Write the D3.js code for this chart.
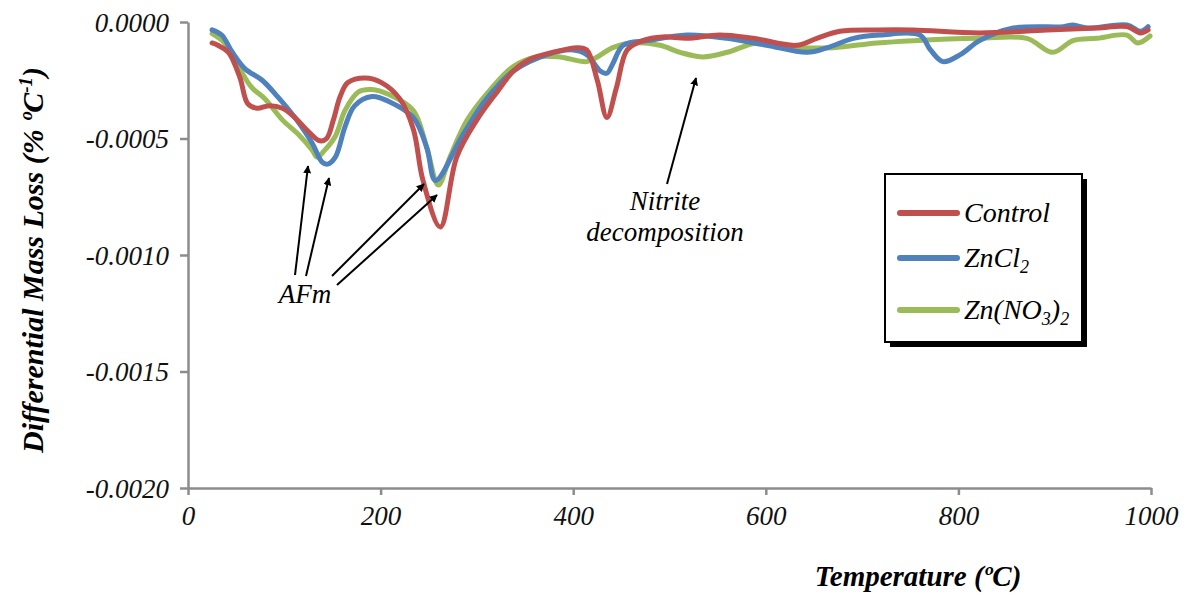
<!DOCTYPE html>
<html>
<head>
<meta charset="utf-8">
<script src="https://cdn.jsdelivr.net/npm/d3@7"></script>
<style>
body { margin: 0; background: #fff; }
text { font-family: "Liberation Serif", "Times New Roman", serif; font-style: italic; }
</style>
</head>
<body>
<script>
let width = 1192;
let height = 598;

// temperature (C) and differential mass loss (% / C)
let controlT = [25, 31, 42, 54, 62, 72, 83, 98, 111, 125, 137, 144, 151, 158, 166, 184, 201, 220, 234, 244, 262, 279, 300, 321, 338, 355, 379, 404, 414, 425, 435, 445, 456, 472, 493, 518, 552, 587, 632, 653, 677, 715, 753, 822, 892, 944, 975, 989, 997];
let controlV = [-0.00009, -0.0001, -0.00013, -0.00024, -0.00035, -0.00037, -0.00036, -0.00037, -0.00041, -0.00047, -0.00051, -0.0005, -0.00042, -0.00032, -0.00026, -0.00024, -0.00026, -0.00033, -0.00046, -0.00068, -0.00088, -0.00058, -0.00042, -0.0003, -0.00021, -0.00016, -0.00013, -0.00011, -0.00012, -0.00025, -0.00041, -0.00028, -0.00012, -0.00008, -0.000064, -0.00007, -0.000056, -0.00007, -0.0001, -0.00007, -0.00004, -0.000034, -0.000034, -0.000047, -0.000034, -0.000026, -0.00002, -0.000047, -0.000034];

let zncl2T = [25, 35, 46, 59, 77, 93, 111, 129, 139, 145, 153, 163, 173, 191, 208, 234, 248, 257, 286, 310, 338, 373, 400, 414, 428, 435, 441, 452, 477, 518, 560, 601, 643, 664, 691, 719, 760, 771, 784, 802, 822, 857, 909, 919, 934, 975, 989, 997];
let zncl2V = [-0.000034, -0.000056, -0.00013, -0.0002, -0.00025, -0.00032, -0.00041, -0.00052, -0.0006, -0.00061, -0.00058, -0.00045, -0.00036, -0.00032, -0.00034, -0.00041, -0.00054, -0.00068, -0.00048, -0.00033, -0.00021, -0.00014, -0.00012, -0.00014, -0.00021, -0.00022, -0.00018, -0.0001, -0.00008, -0.000056, -0.00007, -0.0001, -0.00013, -0.00011, -0.00007, -0.000056, -0.000056, -0.00012, -0.00017, -0.00014, -0.00008, -0.000026, -0.00002, -0.000013, -0.000026, -0.000013, -0.00004, -0.00002];

let znno3T = [25, 38, 52, 66, 80, 98, 114, 129, 134, 142, 153, 163, 177, 191, 208, 234, 248, 260, 272, 290, 314, 338, 362, 386, 414, 425, 441, 462, 490, 511, 535, 560, 591, 636, 670, 715, 753, 822, 871, 898, 919, 944, 975, 986, 999];
let znno3V = [-0.00005, -0.00009, -0.00019, -0.00028, -0.00033, -0.00042, -0.00048, -0.00055, -0.00058, -0.00055, -0.00049, -0.00038, -0.0003, -0.00029, -0.00031, -0.00038, -0.00054, -0.0007, -0.00058, -0.00042, -0.00029, -0.00019, -0.00015, -0.00015, -0.00017, -0.00015, -0.00011, -0.00009, -0.0001, -0.00013, -0.00015, -0.00013, -0.00009, -0.00011, -0.00011, -0.00009, -0.00008, -0.00007, -0.00007, -0.00013, -0.00008, -0.00007, -0.000056, -0.00009, -0.00006];

let xTicks = [0, 200, 400, 600, 800, 1000];
let yTicks = [0, -0.0005, -0.001, -0.0015, -0.002];

let seriesNames = ['Control', 'ZnCl2', 'Zn(NO3)2'];
let seriesColors = ['#c0504d', '#4f81bd', '#9bbb59'];

let x = d3.scaleLinear().domain([0, 1000]).range([188, 1151]);
let y = d3.scaleLinear().domain([-0.002, 0]).range([488, 22]);

let svg = d3.select('body')
.append('svg')
.attr('width', width)
.attr('height', height);

let defs = svg.append('defs');
defs.append('marker')
.attr('id', 'arrow')
.attr('viewBox', '0 0 10 10')
.attr('refX', 9)
.attr('refY', 5)
.attr('markerWidth', 8)
.attr('markerHeight', 8)
.attr('markerUnits', 'userSpaceOnUse')
.attr('orient', 'auto')
.append('path')
.attr('d', 'M0,0 L10,5 L0,10 Z')
.attr('fill', '#000');

// axes
let xAxis = d3.axisBottom(x).tickValues(xTicks).tickSize(7).tickSizeOuter(0).tickFormat(d => d);
let yAxis = d3.axisLeft(y).tickValues(yTicks).tickSize(8).tickSizeOuter(0)
.tickFormat(d => (d === 0 ? '0.0000' : d.toFixed(4)));

let gx = svg.append('g').attr('transform', 'translate(0,488)').call(xAxis);
let gy = svg.append('g').attr('transform', 'translate(188,0)').call(yAxis);

[gx, gy].forEach(g => {
    g.select('.domain').attr('stroke', '#8c8c8c').attr('stroke-width', 2.5);
    g.selectAll('.tick line').attr('stroke', '#8c8c8c').attr('stroke-width', 2.5);
    g.selectAll('.tick text')
    .attr('fill', '#111')
    .style('font-size', '27px')
    .style('font-family', '"Liberation Serif", serif')
    .style('font-style', 'italic');
});
gx.selectAll('.tick text').attr('y', 13).attr('dy', '0.9em');
gy.selectAll('.tick text').attr('x', -19).attr('dy', '0.35em');

// lines
let line = d3.line()
.x(d => x(d[0]))
.y(d => y(d[1]))
.curve(d3.curveCatmullRom.alpha(0.5));

let series = [
    d3.zip(controlT, controlV),
    d3.zip(zncl2T, zncl2V),
    d3.zip(znno3T, znno3V)
];

[2, 1, 0].forEach(i => {
    svg.append('path')
    .datum(series[i])
    .attr('d', line)
    .attr('fill', 'none')
    .attr('stroke', seriesColors[i])
    .attr('stroke-width', 5)
    .attr('stroke-linejoin', 'round')
    .attr('stroke-linecap', 'round');
});

// annotations
let arrows = [
    [[295, 275], [308, 166]],
    [[306, 276], [329, 178]],
    [[332, 276], [424, 184]],
    [[337, 285], [437, 195]],
    [[667, 184], [696, 78]]
];
svg.selectAll('line.arrow')
.data(arrows)
.enter()
.append('line')
.attr('class', 'arrow')
.attr('x1', d => d[0][0])
.attr('y1', d => d[0][1])
.attr('x2', d => d[1][0])
.attr('y2', d => d[1][1])
.attr('stroke', '#000')
.attr('stroke-width', 2)
.attr('marker-end', 'url(#arrow)');

svg.append('text')
.attr('x', 305)
.attr('y', 303)
.attr('text-anchor', 'middle')
.style('font-size', '27px')
.text('AFm');

svg.append('text')
.attr('x', 665)
.attr('y', 210)
.attr('text-anchor', 'middle')
.style('font-size', '27px')
.text('Nitrite');

svg.append('text')
.attr('x', 665)
.attr('y', 241)
.attr('text-anchor', 'middle')
.style('font-size', '27px')
.text('decomposition');

// axis titles
svg.append('text')
.attr('x', 918)
.attr('y', 586)
.attr('text-anchor', 'middle')
.style('font-size', '29px')
.style('font-weight', 'bold')
.text('Temperature (\u00baC)');

let ylab = svg.append('text')
.attr('transform', 'translate(43,260) rotate(-90)')
.attr('text-anchor', 'middle')
.style('font-size', '30px')
.style('font-weight', 'bold');
ylab.append('tspan').text('Differential Mass Loss (% \u00baC');
ylab.append('tspan').attr('dy', -11).style('font-size', '19px').text('-1');
ylab.append('tspan').attr('dy', 11).text(')');

// legend
let legend = svg.append('g').attr('transform', 'translate(885,174)');
legend.append('rect')
.attr('x', 5).attr('y', 5)
.attr('width', 197).attr('height', 168)
.attr('fill', '#000');
legend.append('rect')
.attr('width', 197).attr('height', 168)
.attr('fill', '#fff')
.attr('stroke', '#000')
.attr('stroke-width', 2);

let legendY = [39, 84, 136];
seriesNames.forEach((name, i) => {
    legend.append('line')
    .attr('x1', 15).attr('x2', 72)
    .attr('y1', legendY[i]).attr('y2', legendY[i])
    .attr('stroke', seriesColors[i])
    .attr('stroke-width', 6)
    .attr('stroke-linecap', 'round');
    let t = legend.append('text')
    .attr('x', 79)
    .attr('y', legendY[i] + 9)
    .style('font-size', '28px');
    if (name === 'ZnCl2') {
        t.append('tspan').text('ZnCl');
        t.append('tspan').attr('dy', 6).style('font-size', '18px').text('2');
    } else if (name === 'Zn(NO3)2') {
        t.append('tspan').text('Zn(NO');
        t.append('tspan').attr('dy', 6).style('font-size', '18px').text('3');
        t.append('tspan').attr('dy', -6).text(')');
        t.append('tspan').attr('dy', 6).style('font-size', '18px').text('2');
    } else {
        t.text(name);
    }
});
</script>
</body>
</html>
